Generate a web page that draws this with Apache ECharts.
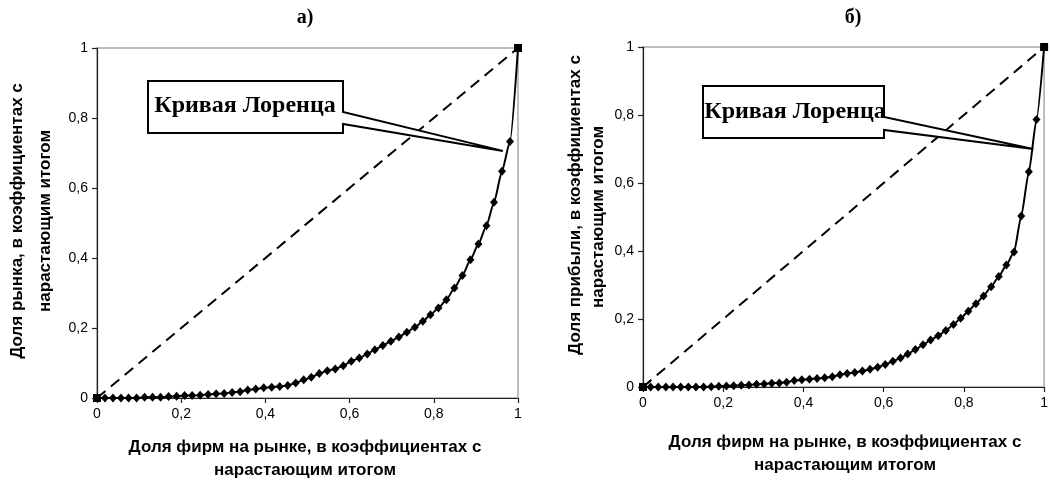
<!DOCTYPE html>
<html><head><meta charset="utf-8">
<script src="https://cdn.jsdelivr.net/npm/echarts@6/dist/echarts.min.js"></script>
<style>html,body{margin:0;padding:0;background:#fff}#c{width:1051px;height:486px}</style>
</head><body><div id="c"></div>
<script>
// cumulative share of firms (x)
const firmShare = [0, 0.019, 0.038, 0.057, 0.075, 0.094, 0.113, 0.132, 0.151, 0.170, 0.189, 0.208, 0.226, 0.245, 0.264, 0.283, 0.302, 0.321, 0.340, 0.358, 0.377, 0.396, 0.415, 0.434, 0.453, 0.472, 0.491, 0.509, 0.528, 0.547, 0.566, 0.585, 0.604, 0.623, 0.642, 0.660, 0.679, 0.698, 0.717, 0.736, 0.755, 0.774, 0.792, 0.811, 0.830, 0.849, 0.868, 0.887, 0.906, 0.925, 0.943, 0.962, 0.981, 1];
// a) cumulative market share
const marketShare = [0, 0, 0, 0, 0, 0, 0.002, 0.002, 0.002, 0.004, 0.005, 0.007, 0.007, 0.008, 0.010, 0.012, 0.013, 0.016, 0.018, 0.023, 0.026, 0.029, 0.031, 0.033, 0.036, 0.043, 0.052, 0.059, 0.070, 0.078, 0.083, 0.092, 0.105, 0.114, 0.126, 0.138, 0.150, 0.162, 0.174, 0.188, 0.202, 0.219, 0.238, 0.257, 0.281, 0.314, 0.350, 0.395, 0.440, 0.492, 0.559, 0.648, 0.733, 1.0];
// б) cumulative profit share
const profitShare = [0, 0, 0, 0, 0, 0, 0, 0, 0, 0.001, 0.002, 0.003, 0.004, 0.005, 0.006, 0.008, 0.009, 0.011, 0.012, 0.014, 0.019, 0.021, 0.023, 0.025, 0.027, 0.030, 0.036, 0.040, 0.043, 0.047, 0.052, 0.058, 0.066, 0.076, 0.085, 0.097, 0.110, 0.124, 0.138, 0.151, 0.166, 0.184, 0.202, 0.223, 0.245, 0.268, 0.295, 0.325, 0.359, 0.397, 0.503, 0.633, 0.787, 1.0];
// line of equality
const equalityX = [0, 1];
const equalityY = [0, 1];
const axisMin = 0, axisMax = 1, axisStep = 0.2;
const panelTitles = ['а)', 'б)'];
const yNames = [['Доля рынка, в коэффициентах с', 'нарастающим итогом'], ['Доля прибыли, в коэффициентах с', 'нарастающим итогом']];
const xNames = [['Доля фирм на рынке, в коэффициентах с', 'нарастающим итогом'], ['Доля фирм на рынке, в коэффициентах с', 'нарастающим итогом']];
const calloutText = 'Кривая Лоренца';
const calloutTargets = [[0.964, 0.706], [0.973, 0.700]];

const SANS = 'Liberation Sans, Arial, sans-serif';
const SERIF = 'Liberation Serif, Times New Roman, serif';
const zip = (xs, ys) => xs.map((x, i) => [x, ys[i]]);
const fmt = v => (v === 0 || v === 1) ? String(v) : v.toFixed(1).replace('.', ',');

const grids = [
  { left: 97, top: 48, width: 421, height: 350 },
  { left: 643, top: 47, width: 405, height: 340 }
];

function axis(gi) {
  return {
    type: 'value', gridIndex: gi, min: axisMin, max: axisMax, interval: axisStep,
    axisLine: { show: true, onZero: false, lineStyle: { color: '#222', width: 1.2 } },
    axisTick: { show: true, length: 5, lineStyle: { color: '#222', width: 1.2 } },
    axisLabel: { formatter: fmt, fontFamily: SANS, fontSize: 14, color: '#000', margin: 9 },
    splitLine: { show: false }
  };
}

const series = [];
[marketShare, profitShare].forEach((ys, gi) => {
  series.push({
    type: 'line', xAxisIndex: gi, yAxisIndex: gi, data: zip(equalityX, equalityY),
    symbol: 'rect', symbolSize: 8, showSymbol: true, clip: false, z: 2,
    lineStyle: { color: '#000', width: 2, type: [11, 7] }, itemStyle: { color: '#000' }
  });
  series.push({
    type: 'line', xAxisIndex: gi, yAxisIndex: gi, data: zip(firmShare, ys),
    symbol: 'diamond', symbolSize: [8, 9], clip: false, z: 3,
    smooth: 0.2, smoothMonotone: 'x',
    lineStyle: { color: '#000', width: 2 }, itemStyle: { color: '#000' }
  });
});

const chart = echarts.init(document.getElementById('c'), null, { renderer: 'canvas' });
chart.setOption({
  animation: false,
  backgroundColor: '#fff',
  grid: grids.map(g => Object.assign({ show: true, borderColor: '#a8a8a8', borderWidth: 1.5, containLabel: false }, g)),
  xAxis: [axis(0), axis(1)],
  yAxis: [axis(0), axis(1)],
  series: series
});

// annotation layout (pixels)
const titlePos = [[305, 18], [853, 18]];
const yNamePos = [[[17, 221], [45, 221]], [[575, 205], [598, 217]]];
const xNamePos = [[[305, 447], [305, 470]], [[845, 442], [845, 465]]];
const boxes = [
  { x1: 148, y1: 81, x2: 343, y2: 133, ya: 112, yb: 124, tx: 245, ty: 106 },
  { x1: 703, y1: 86, x2: 884, y2: 138, ya: 117, yb: 130, tx: 795, ty: 112 }
];

const g = [];
for (let i = 0; i < 2; i++) {
  g.push({ type: 'text', x: titlePos[i][0], y: titlePos[i][1], z: 10,
    style: { text: panelTitles[i], font: 'bold 20px ' + SERIF, fill: '#000', textAlign: 'center', textVerticalAlign: 'middle' } });
  yNames[i].forEach((t, k) => g.push({ type: 'text', x: yNamePos[i][k][0], y: yNamePos[i][k][1], rotation: Math.PI / 2, z: 10,
    style: { text: t, font: 'bold 17px ' + SANS, fill: '#000', textAlign: 'center', textVerticalAlign: 'middle' } }));
  xNames[i].forEach((t, k) => g.push({ type: 'text', x: xNamePos[i][k][0], y: xNamePos[i][k][1], z: 10,
    style: { text: t, font: 'bold 17px ' + SANS, fill: '#000', textAlign: 'center', textVerticalAlign: 'middle' } }));
  const b = boxes[i];
  const tip = chart.convertToPixel({ gridIndex: i }, calloutTargets[i]);
  g.push({ type: 'polygon', z: 11,
    shape: { points: [[b.x1, b.y1], [b.x2, b.y1], [b.x2, b.ya], tip, [b.x2, b.yb], [b.x2, b.y2], [b.x1, b.y2]] },
    style: { fill: '#fff', stroke: '#000', lineWidth: 2 } });
  g.push({ type: 'text', x: b.tx, y: b.ty, z: 12,
    style: { text: calloutText, font: 'bold 24px ' + SERIF, fill: '#000', textAlign: 'center', textVerticalAlign: 'middle' } });
}
chart.setOption({ graphic: g });
</script></body></html>
